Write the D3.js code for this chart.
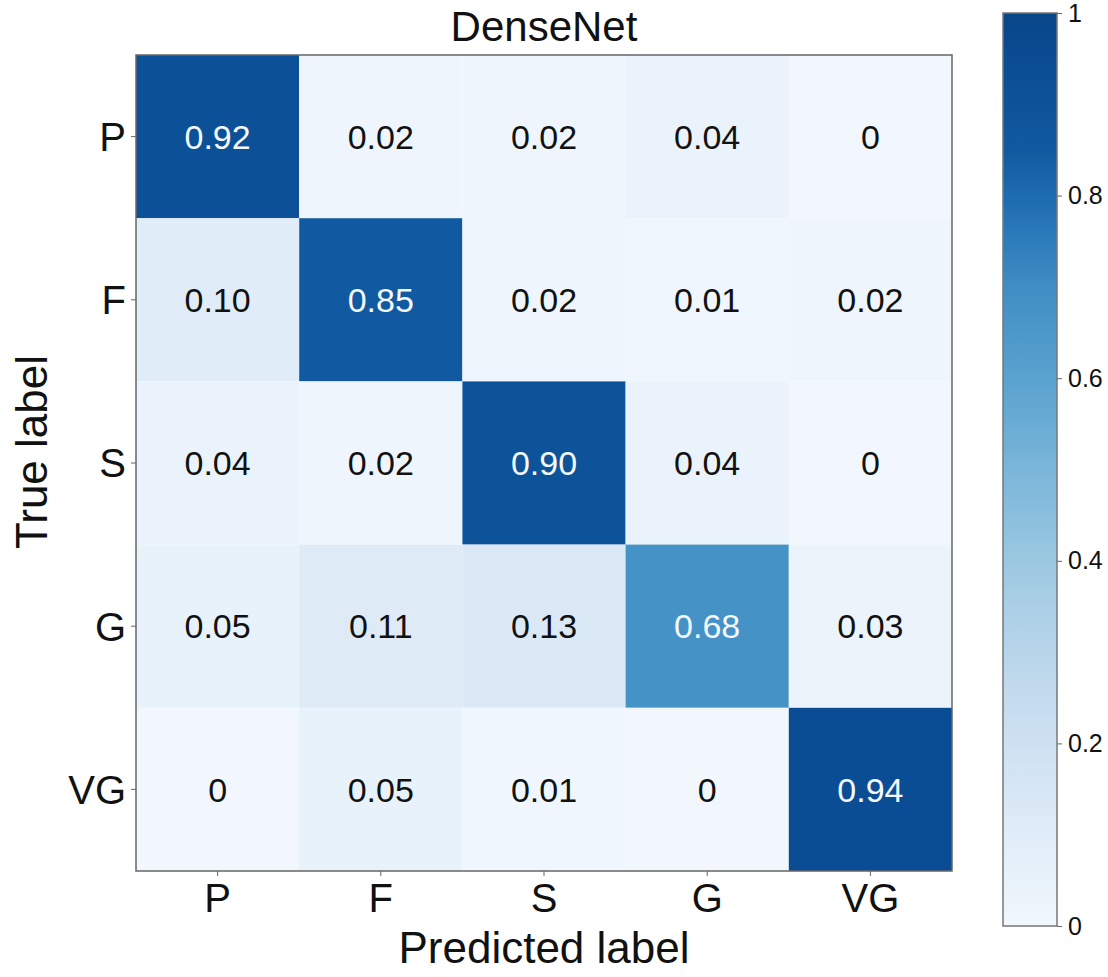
<!DOCTYPE html>
<html>
<head>
<meta charset="utf-8">
<script src="https://cdn.jsdelivr.net/npm/d3@7"></script>
<style>
  body { margin: 0; background: #fff; }
  text { font-family: "Liberation Sans", Arial, sans-serif; }
</style>
</head>
<body>
<script>
// Confusion matrix data
const classes = ["P", "F", "S", "G", "VG"];
const rowP  = [0.92, 0.02, 0.02, 0.04, 0];
const rowF  = [0.10, 0.85, 0.02, 0.01, 0.02];
const rowS  = [0.04, 0.02, 0.90, 0.04, 0];
const rowG  = [0.05, 0.11, 0.13, 0.68, 0.03];
const rowVG = [0, 0.05, 0.01, 0, 0.94];
const matrix = [rowP, rowF, rowS, rowG, rowVG];
const colorbarTicks = [0, 0.2, 0.4, 0.6, 0.8, 1];

const width = 1108;
const height = 977;

// matrix frame
const mLeft = 136, mRight = 952, mTop = 55, mBottom = 871;
// colorbar frame
const cbLeft = 1003, cbRight = 1057, cbTop = 13, cbBottom = 926;

// Blues, with the top end compressed a little like the original image
const tone = d3.scaleLinear()
    .domain([0, 0.7, 0.85, 1])
    .range([0.03, 0.64, 0.84, 0.92]);
const color = v => d3.interpolateBlues(tone(v));

const svg = d3.select("body")
    .append("svg")
        .attr("width", width)
        .attr("height", height);

const x = d3.scaleBand()
    .domain(classes)
    .range([mLeft, mRight]);

const y = d3.scaleBand()
    .domain(classes)
    .range([mTop, mBottom]);

const cells = matrix.flatMap((row, i) =>
    row.map((v, j) => ({ truth: classes[i], pred: classes[j], value: v })));

const fmt = v => v === 0 ? "0" : v.toFixed(2);

svg.append("g")
    .selectAll("rect")
    .data(cells)
    .join("rect")
        .attr("x", d => x(d.pred))
        .attr("y", d => y(d.truth))
        .attr("width", x.bandwidth())
        .attr("height", y.bandwidth())
        .attr("fill", d => color(d.value));

svg.append("g")
    .selectAll("text")
    .data(cells)
    .join("text")
        .attr("x", d => x(d.pred) + x.bandwidth() / 2)
        .attr("y", d => y(d.truth) + y.bandwidth() / 2)
        .attr("dy", "0.36em")
        .attr("text-anchor", "middle")
        .style("font-size", "34px")
        .attr("fill", d => d.value > 0.5 ? "#f4f8fc" : "#111")
        .text(d => fmt(d.value));

// frame
svg.append("rect")
    .attr("x", mLeft)
    .attr("y", mTop)
    .attr("width", mRight - mLeft)
    .attr("height", mBottom - mTop)
    .attr("fill", "none")
    .attr("stroke", "#666")
    .attr("stroke-width", 1.5);

// axes
const xAxis = svg.append("g")
    .attr("transform", `translate(0,${mBottom})`)
    .call(d3.axisBottom(x).tickSize(5).tickPadding(8));
xAxis.select(".domain").remove();
xAxis.selectAll("line").attr("stroke", "#666");
xAxis.selectAll("text")
    .style("font-size", "40px")
    .attr("fill", "#111");

const yAxis = svg.append("g")
    .attr("transform", `translate(${mLeft},0)`)
    .call(d3.axisLeft(y).tickSize(5).tickPadding(5));
yAxis.select(".domain").remove();
yAxis.selectAll("line").attr("stroke", "#666");
yAxis.selectAll("text")
    .style("font-size", "40px")
    .attr("dy", "0.36em")
    .attr("fill", "#111");

// title + axis labels
svg.append("text")
    .attr("x", (mLeft + mRight) / 2)
    .attr("y", 41)
    .attr("text-anchor", "middle")
    .style("font-size", "42px")
    .attr("fill", "#111")
    .text("DenseNet");

svg.append("text")
    .attr("x", (mLeft + mRight) / 2)
    .attr("y", 963)
    .attr("text-anchor", "middle")
    .style("font-size", "44px")
    .attr("fill", "#111")
    .text("Predicted label");

svg.append("text")
    .attr("transform", `translate(47,452) rotate(-90)`)
    .attr("text-anchor", "middle")
    .style("font-size", "44px")
    .attr("fill", "#111")
    .text("True label");

// colorbar
const cbScale = d3.scaleLinear()
    .domain([0, 1])
    .range([cbBottom, cbTop]);

const grad = svg.append("defs")
    .append("linearGradient")
        .attr("id", "cb")
        .attr("x1", 0).attr("y1", 1)
        .attr("x2", 0).attr("y2", 0);
grad.selectAll("stop")
    .data(d3.range(0, 1.0001, 0.05))
    .join("stop")
        .attr("offset", d => d)
        .attr("stop-color", d => color(d));

svg.append("rect")
    .attr("x", cbLeft)
    .attr("y", cbTop)
    .attr("width", cbRight - cbLeft)
    .attr("height", cbBottom - cbTop)
    .attr("fill", "url(#cb)")
    .attr("stroke", "#777")
    .attr("stroke-width", 1.5);

const cbAxis = svg.append("g")
    .attr("transform", `translate(${cbRight},0)`)
    .call(d3.axisRight(cbScale)
        .tickValues(colorbarTicks)
        .tickFormat(d => d === 0 || d === 1 ? String(d) : d.toFixed(1))
        .tickSize(5)
        .tickPadding(6));
cbAxis.select(".domain").remove();
cbAxis.selectAll("line").attr("stroke", "#666");
cbAxis.selectAll("text")
    .style("font-size", "25px")
    .attr("fill", "#111");
</script>
</body>
</html>
